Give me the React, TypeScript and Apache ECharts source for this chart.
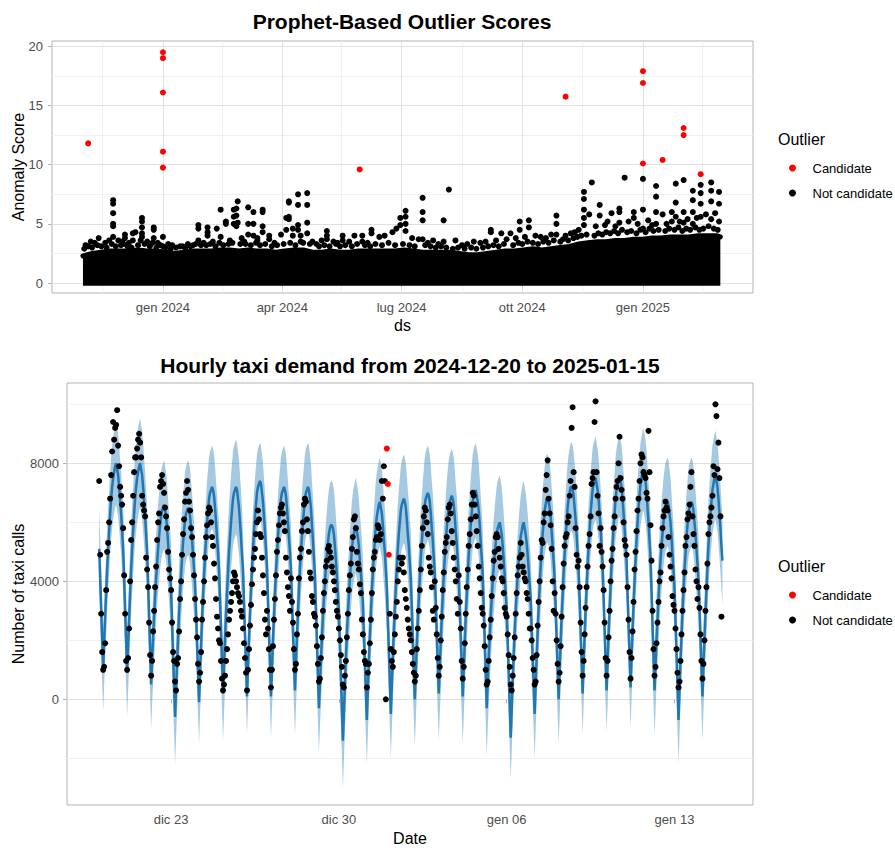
import React, { useEffect, useRef } from "react";
import * as echarts from "echarts";

const FONT = '"Liberation Sans", Arial, Helvetica, sans-serif';
const DAY = 86400000;
const HOUR = 3600000;
const utc = (s: string) => Date.parse(s.length === 10 ? s + "T00:00:00Z" : s + "Z");

// ---------------- Panel 1: Prophet-based outlier scores ----------------
// Upper edge of the dense mass of hourly scores, one value per week from 2023-11-01
const scoreBulkStart = "2023-11-01";
const scoreBulkWeeklyTop = [
  2.3, 2.5, 2.6, 2.7, 2.7,
  2.7, 2.8, 2.7, 2.7,
  2.6, 2.5, 2.6, 2.7, 2.7,
  2.7, 2.8, 2.8, 2.7,
  2.8, 2.7, 2.7, 2.6,
  2.7, 2.8, 2.8, 2.6,
  2.6, 2.7, 2.6, 2.6, 2.7,
  2.7, 2.7, 2.7, 2.7,
  2.8, 2.7, 2.6, 2.6, 2.6,
  2.6, 2.5, 2.4, 2.4,
  2.5, 2.6, 2.7, 2.7,
  2.8, 2.9, 2.8, 2.9, 3.0,
  3.1, 3.3, 3.4, 3.5,
  3.5, 3.6, 3.6, 3.7,
  3.7, 3.8, 3.8, 3.9, 3.9,
  3.9, 4.0, 4.0, 4.0,
];
const scoreBulkEnd = "2025-03-01";
const scoreBulkEndTop = 3.9;

const candidateScores: [string, number[]][] = [
  ["2023-11-05", [11.8]],
  ["2024-01-01", [19.5, 19.0, 16.1, 11.1, 9.75]],
  ["2024-05-30", [9.6]],
  ["2024-11-03", [15.75]],
  ["2025-01-01", [17.9, 16.9, 10.1]],
  ["2025-01-16", [10.4]],
  ["2025-02-01", [13.1, 12.5]],
  ["2025-02-14", [9.2]],
];

const notCandidateScores: [string, number[]][] = [
  ["2023-11-03", [3.2]], ["2023-11-07", [3.5]], ["2023-11-10", [3.4]], ["2023-11-13", [3.8]],
  ["2023-11-18", [3.4]], ["2023-11-21", [3.6]], ["2023-11-24", [7.0, 6.7, 5.9, 5.0, 4.8, 3.9]],
  ["2023-11-28", [3.6]], ["2023-12-01", [3.5]], ["2023-12-03", [4.1, 3.8]], ["2023-12-06", [3.4]],
  ["2023-12-09", [4.2, 3.6]], ["2023-12-11", [4.3]], ["2023-12-16", [5.5, 5.2, 4.7, 4.2, 3.9]],
  ["2023-12-20", [3.5]], ["2023-12-25", [4.7, 4.5, 3.8]], ["2023-12-28", [3.4]],
  ["2024-01-01", [3.9, 3.1]], ["2024-01-05", [3.3]], ["2024-01-08", [3.2]], ["2024-01-14", [3.1]],
  ["2024-01-20", [3.3]], ["2024-01-24", [3.2]], ["2024-01-28", [4.9, 4.6, 3.6]], ["2024-02-01", [3.4]],
  ["2024-02-04", [4.7, 4.3, 4.0]], ["2024-02-08", [3.5]], ["2024-02-11", [4.6]], ["2024-02-14", [6.2, 3.9]],
  ["2024-02-18", [5.2, 5.0]], ["2024-02-21", [3.6]], ["2024-02-24", [6.2, 5.6, 5.0]],
  ["2024-02-26", [6.3, 5.7, 4.8]], ["2024-02-27", [6.9, 5.1]], ["2024-03-01", [3.8]], ["2024-03-03", [3.5]],
  ["2024-03-06", [6.4, 5.0, 4.1]], ["2024-03-10", [6.0, 5.0, 4.0]], ["2024-03-13", [3.8, 3.6]],
  ["2024-03-17", [6.2, 6.0, 4.8, 4.3]], ["2024-03-22", [4.0, 3.7]], ["2024-03-26", [3.4]], ["2024-03-31", [4.1]],
  ["2024-04-04", [5.5, 4.5]], ["2024-04-06", [6.9, 6.8, 5.6, 5.4]], ["2024-04-09", [4.6, 4.0]],
  ["2024-04-13", [7.5, 6.6, 4.9, 4.5]], ["2024-04-15", [4.0, 3.5]], ["2024-04-20", [7.6, 6.6, 5.1, 4.2]],
  ["2024-04-24", [3.5]], ["2024-04-27", [3.3]], ["2024-05-01", [3.6]], ["2024-05-05", [4.4, 4.0, 3.7]],
  ["2024-05-10", [3.5]], ["2024-05-13", [3.4]], ["2024-05-17", [4.0, 3.6]], ["2024-05-22", [3.5]],
  ["2024-05-26", [4.0]], ["2024-06-01", [4.0, 3.5]], ["2024-06-05", [3.4]], ["2024-06-08", [4.5, 4.2]],
  ["2024-06-14", [3.9]], ["2024-06-18", [4.0]], ["2024-06-24", [4.3]], ["2024-06-27", [4.6]],
  ["2024-06-30", [5.5, 4.9]], ["2024-07-04", [6.1, 5.6, 5.0, 4.4]], ["2024-07-09", [3.8]], ["2024-07-14", [3.7]],
  ["2024-07-17", [7.2, 6.0, 5.3, 3.7]], ["2024-07-21", [3.4]], ["2024-07-25", [3.6]], ["2024-07-29", [3.3]],
  ["2024-08-02", [5.3, 3.5]], ["2024-08-06", [7.9]], ["2024-08-11", [3.6]], ["2024-08-16", [3.2]],
  ["2024-08-20", [3.3]], ["2024-08-25", [3.5]], ["2024-08-30", [3.4]], ["2024-09-03", [3.5]],
  ["2024-09-07", [4.5, 4.3]], ["2024-09-11", [3.6]], ["2024-09-15", [4.2]], ["2024-09-19", [3.7]],
  ["2024-09-22", [4.2]], ["2024-09-26", [3.8]], ["2024-09-29", [5.2, 4.5]], ["2024-10-03", [3.9]],
  ["2024-10-06", [5.3, 4.7]], ["2024-10-11", [4.0]], ["2024-10-15", [3.9]], ["2024-10-19", [3.8]],
  ["2024-10-23", [4.1]], ["2024-10-27", [5.7, 5.0, 4.1]], ["2024-11-03", [4.0]], ["2024-11-07", [4.2]],
  ["2024-11-10", [4.3]], ["2024-11-13", [4.5]], ["2024-11-17", [7.7, 7.1, 6.2, 5.5, 4.9]],
  ["2024-11-21", [5.8]], ["2024-11-23", [8.5]], ["2024-11-26", [4.8]], ["2024-11-29", [6.6, 5.7]],
  ["2024-12-03", [4.9]], ["2024-12-05", [5.2]], ["2024-12-08", [5.9]], ["2024-12-11", [4.8]],
  ["2024-12-14", [6.3, 6.0, 5.1]], ["2024-12-18", [8.9]], ["2024-12-21", [5.2]], ["2024-12-25", [6.0, 5.5]],
  ["2024-12-28", [5.0]], ["2025-01-01", [8.8, 6.2, 4.6]], ["2025-01-05", [5.3]], ["2025-01-08", [4.9]],
  ["2025-01-11", [8.2, 7.3, 6.0, 5.0]], ["2025-01-16", [5.8]], ["2025-01-19", [5.0]], ["2025-01-23", [6.0, 5.2]],
  ["2025-01-26", [8.4, 6.8, 5.6]], ["2025-01-29", [5.2]], ["2025-02-01", [8.7, 6.0, 5.1]], ["2025-02-04", [5.4]],
  ["2025-02-08", [7.8, 7.0, 6.0, 5.0]], ["2025-02-11", [5.5]], ["2025-02-14", [8.3, 7.6, 6.7, 5.6]],
  ["2025-02-18", [5.8]], ["2025-02-22", [8.5, 7.8, 6.9, 5.4]], ["2025-02-25", [5.9]], ["2025-02-28", [7.7, 6.7, 5.2]],
];
// scattered scores just above the dense mass (its ragged upper fringe)
const fringeScores: [string, number][] = [
  ["2023-11-02", 2.9], ["2023-11-05", 3.1], ["2023-11-08", 3.0], ["2023-11-12", 3.2], ["2023-11-15", 3.1],
  ["2023-11-19", 3.0], ["2023-11-23", 3.3], ["2023-11-26", 3.1], ["2023-11-30", 3.2], ["2023-12-02", 3.3],
  ["2023-12-05", 3.1], ["2023-12-08", 3.0], ["2023-12-13", 3.2], ["2023-12-15", 3.6], ["2023-12-18", 3.3],
  ["2023-12-22", 3.1], ["2023-12-24", 3.4], ["2023-12-27", 3.0], ["2023-12-30", 3.2], ["2024-01-03", 3.0],
  ["2024-01-07", 2.9], ["2024-01-11", 3.0], ["2024-01-16", 3.1], ["2024-01-18", 3.0], ["2024-01-22", 3.1],
  ["2024-01-26", 3.3], ["2024-01-30", 3.2], ["2024-02-03", 3.2], ["2024-02-06", 3.3], ["2024-02-10", 3.1],
  ["2024-02-13", 3.4], ["2024-02-16", 3.2], ["2024-02-20", 3.3], ["2024-02-23", 3.4], ["2024-02-29", 3.3],
  ["2024-03-04", 3.3], ["2024-03-08", 3.2], ["2024-03-12", 3.4], ["2024-03-15", 3.2], ["2024-03-19", 3.3],
  ["2024-03-24", 3.1], ["2024-03-28", 3.2], ["2024-04-02", 3.3], ["2024-04-07", 3.4], ["2024-04-11", 3.2],
  ["2024-04-17", 3.4], ["2024-04-22", 3.3], ["2024-04-29", 3.1], ["2024-05-03", 3.2], ["2024-05-07", 3.1],
  ["2024-05-12", 3.3], ["2024-05-15", 3.1], ["2024-05-19", 3.2], ["2024-05-24", 3.1], ["2024-05-28", 3.3],
  ["2024-06-03", 3.2], ["2024-06-07", 3.1], ["2024-06-11", 3.3], ["2024-06-16", 3.2], ["2024-06-21", 3.4],
  ["2024-06-26", 3.2], ["2024-07-02", 3.3], ["2024-07-07", 3.2], ["2024-07-11", 3.1], ["2024-07-19", 3.2],
  ["2024-07-23", 3.1], ["2024-07-27", 3.0], ["2024-07-31", 3.1], ["2024-08-04", 3.0], ["2024-08-09", 2.9],
  ["2024-08-13", 3.0], ["2024-08-18", 2.9], ["2024-08-23", 3.0], ["2024-08-27", 2.9], ["2024-09-01", 3.0],
  ["2024-09-05", 3.1], ["2024-09-09", 3.2], ["2024-09-13", 3.1], ["2024-09-17", 3.3], ["2024-09-24", 3.2],
  ["2024-09-28", 3.4], ["2024-10-01", 3.3], ["2024-10-05", 3.5], ["2024-10-09", 3.4], ["2024-10-13", 3.3],
  ["2024-10-17", 3.5], ["2024-10-21", 3.4], ["2024-10-25", 3.6], ["2024-10-30", 3.5], ["2024-11-01", 3.7],
  ["2024-11-05", 3.6], ["2024-11-09", 3.8], ["2024-11-12", 3.9], ["2024-11-15", 4.0], ["2024-11-19", 4.1],
  ["2024-11-25", 4.0], ["2024-11-28", 4.2], ["2024-12-01", 4.1], ["2024-12-04", 4.3], ["2024-12-07", 4.2],
  ["2024-12-10", 4.4], ["2024-12-13", 4.2], ["2024-12-16", 4.5], ["2024-12-20", 4.3], ["2024-12-23", 4.4],
  ["2024-12-27", 4.2], ["2024-12-30", 4.5], ["2025-01-03", 4.3], ["2025-01-06", 4.6], ["2025-01-09", 4.4],
  ["2025-01-13", 4.5], ["2025-01-18", 4.4], ["2025-01-21", 4.6], ["2025-01-25", 4.5], ["2025-01-28", 4.7],
  ["2025-01-31", 4.4], ["2025-02-03", 4.6], ["2025-02-06", 4.5], ["2025-02-10", 4.7], ["2025-02-13", 4.5],
  ["2025-02-16", 4.6], ["2025-02-20", 4.8], ["2025-02-24", 4.6], ["2025-02-27", 4.5],
];

const topTickDates = ["2024-01-01", "2024-04-01", "2024-07-01", "2024-10-01", "2025-01-01"];
const topTickLabels = ["gen 2024", "apr 2024", "lug 2024", "ott 2024", "gen 2025"];
const topMinorDates = ["2023-11-16", "2024-02-15", "2024-05-16", "2024-08-16", "2024-11-16", "2025-02-15"];
const scoreTicks = [0, 5, 10, 15, 20];
const scoreMinorTicks = [2.5, 7.5, 12.5, 17.5];

// ---------------- Panel 2: hourly taxi demand ----------------
const demandStart = "2024-12-20T00:00:00";
// forecast (yhat), hundreds of calls, one row per day (hours 0..23), 2024-12-20 .. 2025-01-14
const yhatByDay = [
  [51,41,31,20,10,19,28,36,44,51,57,63,68,72,75,77,79,80,78,76,72,67,63,57],
  [51,41,30,20,9,18,27,36,44,51,57,63,68,72,75,77,79,80,78,76,72,67,62,56],
  [50,39,28,17,5,13,21,28,35,41,46,51,55,59,62,64,65,66,64,62,58,53,48,43],
  [37,26,15,5,-6,3,12,21,29,36,42,48,53,57,61,63,64,65,64,62,58,54,49,44],
  [39,29,19,9,-1,9,18,27,35,42,49,54,60,64,68,70,71,72,71,69,65,60,55,50],
  [44,34,23,13,2,11,20,29,36,43,50,55,60,64,68,70,71,72,71,68,65,60,55,49],
  [44,33,22,12,1,11,20,29,37,44,51,57,62,66,70,72,73,74,73,70,67,62,57,51],
  [45,34,23,12,1,10,20,28,36,43,49,55,60,64,68,70,71,72,71,69,65,60,55,50],
  [44,34,24,13,3,12,21,29,37,44,50,55,60,64,68,70,71,72,71,68,65,59,54,48],
  [42,31,20,8,-3,5,13,21,28,34,39,45,49,53,56,58,59,59,58,56,52,47,42,36],
  [30,19,8,-3,-14,-5,5,14,22,29,35,41,46,51,54,56,58,59,57,55,52,47,43,38],
  [33,23,13,3,-7,3,13,21,29,37,43,49,54,59,62,64,66,67,65,63,59,54,50,44],
  [38,27,17,6,-5,5,14,23,31,38,45,51,56,60,64,66,67,68,67,65,61,56,52,46],
  [41,31,20,10,0,9,18,27,34,41,48,53,58,62,66,68,69,70,69,67,63,58,54,48],
  [43,33,22,12,2,11,19,28,35,42,48,53,58,62,65,67,68,69,68,66,62,57,53,47],
  [42,32,21,11,1,10,19,28,35,42,49,54,59,63,67,69,70,71,69,67,64,59,53,48],
  [42,31,20,9,-3,6,14,21,28,34,40,45,49,53,56,58,59,60,58,56,52,47,42,36],
  [31,20,9,-2,-13,-4,6,15,23,30,36,42,47,51,55,57,59,60,58,56,53,49,44,39],
  [34,24,14,5,-5,5,14,23,31,38,45,51,56,60,64,66,68,68,67,65,62,57,52,47],
  [41,31,21,10,0,9,19,28,35,43,49,55,60,65,68,70,72,72,71,69,65,61,56,50],
  [44,34,23,13,2,12,21,30,38,45,52,57,63,67,71,73,74,75,73,71,68,63,58,52],
  [46,35,24,13,3,12,22,30,38,46,52,58,63,68,71,73,75,76,74,72,68,63,58,53],
  [47,36,25,15,4,14,23,32,40,47,54,60,65,69,73,75,77,78,76,74,70,65,60,54],
  [48,37,25,14,3,11,20,27,34,41,47,52,56,60,63,65,66,67,66,63,60,55,49,44],
  [38,27,16,5,-7,3,13,21,30,37,44,49,55,59,63,65,66,67,66,64,60,56,51,46],
  [41,31,21,11,1,11,20,29,37,45,52,58,63,67,71,73,75,76,74,72,68,63,58,52],
];
const yhatLast = [47]; // 2025-01-15 00:00
// half-width of the uncertainty interval per day (hundreds of calls)
const intervalHalfWidth = [14,15,15,16,14,16,13,14,15,15,16,15,15,16,16,16,16,14,15,15,14,14,14,15,15,15];
// observed calls, hundreds, one row per day (hours 0..23)
const actualByDay = [
  [74,49,29,16,10,11,19,37,50,53,60,68,76,84,94,88,92,93,98,86,79,72,69,66],
  [58,42,29,13,10,14,24,40,54,60,69,77,82,82,85,88,90,87,82,69,66,64,62,48],
  [44,38,26,15,8,13,23,30,38,45,54,60,63,72,74,76,73,70,65,62,58,50,44,41],
  [37,26,16,13,6,3,12,14,23,34,40,49,56,61,67,70,74,71,67,64,58,55,49,42],
  [34,27,21,12,6,9,16,27,33,40,48,55,59,63,65,64,60,55,52,46,41,34,28,24],
  [20,19,13,7,3,5,8,13,17,22,27,30,33,36,40,43,42,40,38,36,35,33,30,28],
  [24,19,14,9,3,10,17,25,32,39,44,48,51,56,60,64,61,56,55,48,42,36,27,22],
  [30,24,17,10,4,10,18,27,34,42,50,54,59,63,65,66,63,60,57,48,43,38,35,30],
  [41,33,26,17,10,12,22,29,41,48,51,57,60,66,68,67,61,57,50,43,41,35,33,29],
  [28,25,18,12,6,7,14,21,30,36,40,45,47,51,52,50,48,45,43,40,37,33,30,28],
  [24,20,15,11,5,4,8,13,21,29,37,42,46,51,55,61,62,58,50,46,44,39,36,27],
  [22,16,13,12,4,9,12,19,27,36,44,48,50,54,55,59,58,54,56,74,68,79,74,0],
  [85,73,49,29,17,13,11,16,22,28,33,40,44,48,48,46,48,43,37,34,31,27,24,22],
  [20,16,12,9,6,8,17,24,30,37,44,52,58,62,65,64,60,56,48,45,43,38,30,27],
  [40,31,22,14,8,11,20,28,37,43,50,53,55,61,65,66,63,57,53,48,44,40,34,29],
  [42,33,24,13,7,11,19,29,38,44,52,56,61,66,70,69,66,62,57,52,45,41,36,31],
  [29,25,18,10,5,6,13,21,27,35,41,47,50,55,56,55,51,48,45,41,40,36,31,29],
  [28,22,15,11,5,3,8,14,21,29,36,42,45,48,53,49,45,43,41,40,36,34,29,24],
  [24,20,14,10,5,6,15,25,33,40,48,54,53,60,63,71,76,81,68,63,59,51,40,30],
  [36,29,20,12,6,9,18,28,38,46,52,55,56,60,62,69,74,92,99,77,72,58,49,45],
  [47,38,26,16,8,13,22,31,38,45,52,56,62,73,75,77,94,101,77,69,63,52,58,50],
  [45,37,26,14,8,13,21,30,40,47,51,58,62,68,72,74,80,89,75,71,68,60,54,52],
  [49,38,27,16,7,14,23,33,44,50,57,64,68,74,80,83,82,77,76,75,70,68,91,77],
  [59,47,30,17,8,11,19,26,33,40,43,52,58,62,64,67,65,64,55,49,45,41,35,32],
  [30,24,17,9,4,6,13,22,30,37,43,52,55,61,63,66,72,77,62,56,52,44,40,34],
  [38,31,22,13,7,12,20,30,38,46,56,60,62,65,69,79,76,100,96,78,87,75,62,28],
];
// hours (since start) flagged as outlier candidates: 2025-01-01 00:00-02:00
const candidateHours = [288, 289, 290];
const bottomTickDates = ["2024-12-23", "2024-12-30", "2025-01-06", "2025-01-13"];
const bottomTickLabels = ["dic 23", "dic 30", "gen 06", "gen 13"];
const demandTicks = [0, 4000, 8000];
const demandMinorTicks = [-2000, 2000, 6000, 10000];

function gridLines(xi: number, color: string, xs: number[], ys: number[]) {
  return {
    type: "line",
    xAxisIndex: xi,
    yAxisIndex: xi,
    data: [],
    silent: true,
    z: 0,
    markLine: {
      silent: true,
      animation: false,
      z: 0,
      zlevel: 0,
      symbol: ["none", "none"],
      label: { show: false },
      emphasis: { disabled: true },
      lineStyle: { color, width: 1, type: "solid", opacity: 1 },
      data: [...xs.map((x) => ({ xAxis: x })), ...ys.map((y) => ({ yAxis: y }))],
    },
  };
}

function buildOption() {
  // ---- panel 1 data
  const bulkT0 = utc(scoreBulkStart);
  const bulk = scoreBulkWeeklyTop.map((v, i) => [bulkT0 + i * 7 * DAY, v]);
  bulk.push([utc(scoreBulkEnd), scoreBulkEndTop]);
  const candTop: number[][] = [];
  candidateScores.forEach(([d, vs]) => vs.forEach((v) => candTop.push([utc(d), v])));
  const nonTop: number[][] = [];
  notCandidateScores.forEach(([d, vs]) => vs.forEach((v) => nonTop.push([utc(d), v])));
  fringeScores.forEach(([d, v]) => nonTop.push([utc(d), v]));
  const topTickTs = topTickDates.map(utc);
  const topLabel = new Map(topTickTs.map((t, i) => [t, topTickLabels[i]]));
  const jan2024 = utc("2024-01-01");

  // ---- panel 2 data
  const t0 = utc(demandStart);
  const yhat = [...yhatByDay.flat(), ...yhatLast];
  const band: number[][] = []; // [t, lower, upper]
  const line: number[][] = [];
  yhat.forEach((v, i) => {
    const t = t0 + i * HOUR;
    const hw = intervalHalfWidth[Math.min(Math.floor(i / 24), intervalHalfWidth.length - 1)];
    line.push([t, v * 100]);
    band.push([t, (v - hw) * 100, (v + hw) * 100]);
  });
  const actual = actualByDay.flat();
  const candSet = new Set(candidateHours);
  const candBot: number[][] = [];
  const nonBot: number[][] = [];
  actual.forEach((v, i) => {
    const p = [t0 + i * HOUR, v * 100];
    if (candSet.has(i)) candBot.push(p);
    else nonBot.push(p);
  });
  const botTickTs = bottomTickDates.map(utc);
  const botLabel = new Map(botTickTs.map((t, i) => [t, bottomTickLabels[i]]));

  const tickLabel = { fontSize: 13, color: "#4d4d4d", fontFamily: FONT };
  const nameStyle = { fontSize: 16, color: "#000", fontFamily: FONT };
  const tickStyle = { lineStyle: { color: "#b3b3b3", width: 1 } };

  return {
    animation: false,
    backgroundColor: "#ffffff",
    textStyle: { fontFamily: FONT },
    grid: [
      { left: 52, top: 41, width: 701, height: 252, show: true, borderColor: "#b3b3b3", borderWidth: 1, backgroundColor: "#fff", containLabel: false, outerBoundsMode: "none" },
      { left: 67, top: 383, width: 686, height: 422, show: true, borderColor: "#b3b3b3", borderWidth: 1, backgroundColor: "#fff", containLabel: false, outerBoundsMode: "none" },
    ],
    xAxis: [
      {
        type: "value", gridIndex: 0, min: jan2024 - 84.6 * DAY, max: jan2024 + 449.9 * DAY,
        axisLine: { show: false },
        axisTick: { show: true, length: 4, customValues: topTickTs, ...tickStyle },
        axisLabel: { ...tickLabel, margin: 8, customValues: topTickTs, formatter: (v: number) => topLabel.get(v) ?? "" },
        splitLine: { show: false },
        name: "ds", nameLocation: "middle", nameGap: 24, nameMoveOverlap: false, nameTextStyle: nameStyle,
      },
      {
        type: "value", gridIndex: 1,
        min: utc("2024-12-23") - 104.2 * HOUR, max: utc("2025-01-13") + 78.6 * HOUR,
        axisLine: { show: false },
        axisTick: { show: true, length: 4, customValues: botTickTs, ...tickStyle },
        axisLabel: { ...tickLabel, margin: 8, customValues: botTickTs, formatter: (v: number) => botLabel.get(v) ?? "" },
        splitLine: { show: false },
        name: "Date", nameLocation: "middle", nameGap: 25, nameMoveOverlap: false, nameTextStyle: nameStyle,
      },
    ],
    yAxis: [
      {
        type: "value", gridIndex: 0, min: -0.84, max: 20.45,
        axisLine: { show: false },
        axisTick: { show: true, length: 4, customValues: scoreTicks, ...tickStyle },
        axisLabel: { ...tickLabel, margin: 9, customValues: scoreTicks, formatter: (v: number) => String(v) },
        splitLine: { show: false },
        name: "Anomaly Score", nameLocation: "middle", nameGap: 26, nameMoveOverlap: false, nameTextStyle: nameStyle,
      },
      {
        type: "value", gridIndex: 1, min: -3583, max: 10722,
        axisLine: { show: false },
        axisTick: { show: true, length: 4, customValues: demandTicks, ...tickStyle },
        axisLabel: { ...tickLabel, margin: 8, customValues: demandTicks, formatter: (v: number) => String(v) },
        splitLine: { show: false },
        name: "Number of taxi calls", nameLocation: "middle", nameGap: 41, nameMoveOverlap: false, nameTextStyle: nameStyle,
      },
    ],
    legend: [
      {
        orient: "vertical", left: 789, top: 160, padding: 0, itemWidth: 30, itemHeight: 7, itemGap: 9,
        icon: "circle", data: ["Candidate", "Not candidate"], selectedMode: false,
        textStyle: { fontSize: 13, color: "#000", fontFamily: FONT, lineHeight: 16 },
      },
      {
        orient: "vertical", left: 789, top: 587, padding: 0, itemWidth: 30, itemHeight: 7, itemGap: 9,
        icon: "circle", data: ["Candidate", "Not candidate"], selectedMode: false,
        textStyle: { fontSize: 13, color: "#000", fontFamily: FONT, lineHeight: 16 },
      },
    ],
    graphic: [
      { type: "text", x: 402, y: 21, style: { text: "Prophet-Based Outlier Scores", fontSize: 21, fontWeight: "bold", fontFamily: FONT, fill: "#000", align: "center", verticalAlign: "middle" } },
      { type: "text", x: 410, y: 365, style: { text: "Hourly taxi demand from 2024-12-20 to 2025-01-15", fontSize: 21, fontWeight: "bold", fontFamily: FONT, fill: "#000", align: "center", verticalAlign: "middle" } },
      { type: "text", x: 778, y: 139, style: { text: "Outlier", fontSize: 16, fontFamily: FONT, fill: "#000", align: "left", verticalAlign: "middle" } },
      { type: "text", x: 778, y: 566, style: { text: "Outlier", fontSize: 16, fontFamily: FONT, fill: "#000", align: "left", verticalAlign: "middle" } },
    ],
    series: [
      // panel 1 grid
      gridLines(0, "#f0f0f0", topMinorDates.map(utc), scoreMinorTicks),
      gridLines(0, "#e0e0e0", topTickTs, scoreTicks),
      {
        name: "Not candidate (dense)", type: "line", xAxisIndex: 0, yAxisIndex: 0, data: bulk,
        symbol: "none", silent: true, z: 2,
        lineStyle: { color: "#000", width: 5, cap: "round", join: "round" },
        areaStyle: { color: "#000", opacity: 1, origin: -0.22 },
      },
      {
        name: "Not candidate", type: "scatter", xAxisIndex: 0, yAxisIndex: 0, data: nonTop,
        symbol: "circle", symbolSize: 6, itemStyle: { color: "#000", opacity: 1 }, z: 3, silent: true,
      },
      {
        name: "Candidate", type: "scatter", xAxisIndex: 0, yAxisIndex: 0, data: candTop,
        symbol: "circle", symbolSize: 6, itemStyle: { color: "#ff0000", opacity: 1 }, z: 4, silent: true,
      },
      // panel 2 grid
      gridLines(1, "#f0f0f0", [], demandMinorTicks),
      gridLines(1, "#e0e0e0", [], demandTicks),
      {
        name: "Uncertainty interval", type: "custom", xAxisIndex: 1, yAxisIndex: 1,
        data: [band[0]], silent: true, z: 2, clip: true,
        encode: { x: 0, y: 1 },
        renderItem: (_params: any, api: any) => {
          const pts: number[][] = [];
          for (let i = 0; i < band.length; i++) pts.push(api.coord([band[i][0], band[i][2]]));
          for (let i = band.length - 1; i >= 0; i--) pts.push(api.coord([band[i][0], band[i][1]]));
          return {
            type: "polygon",
            shape: { points: pts },
            style: { fill: "rgba(31,119,180,0.4)", stroke: "none" },
          };
        },
      },
      {
        name: "Forecast", type: "line", xAxisIndex: 1, yAxisIndex: 1, data: line,
        symbol: "none", silent: true, lineStyle: { color: "#1f77b4", width: 2.5 }, z: 3,
      },
      {
        name: "Not candidate", type: "scatter", xAxisIndex: 1, yAxisIndex: 1, data: nonBot,
        symbol: "circle", symbolSize: 6, itemStyle: { color: "#000", opacity: 1 }, z: 4, silent: true,
      },
      {
        name: "Candidate", type: "scatter", xAxisIndex: 1, yAxisIndex: 1, data: candBot,
        symbol: "circle", symbolSize: 6, itemStyle: { color: "#ff0000", opacity: 1 }, z: 5, silent: true,
      },
    ],
  };
}

export default function App() {
  const ref = useRef<HTMLDivElement>(null);
  useEffect(() => {
    if (!ref.current) return;
    const chart = echarts.init(ref.current, undefined, { renderer: "svg" });
    chart.setOption(buildOption() as any);
    return () => chart.dispose();
  }, []);
  return (
    <div
      style={{ position: "fixed", left: 0, top: 0, width: 895, height: 848, overflow: "hidden", background: "#fff" }}
    >
      <div ref={ref} style={{ position: "absolute", left: 0, top: 0, width: 960, height: 848 }} />
    </div>
  );
}
